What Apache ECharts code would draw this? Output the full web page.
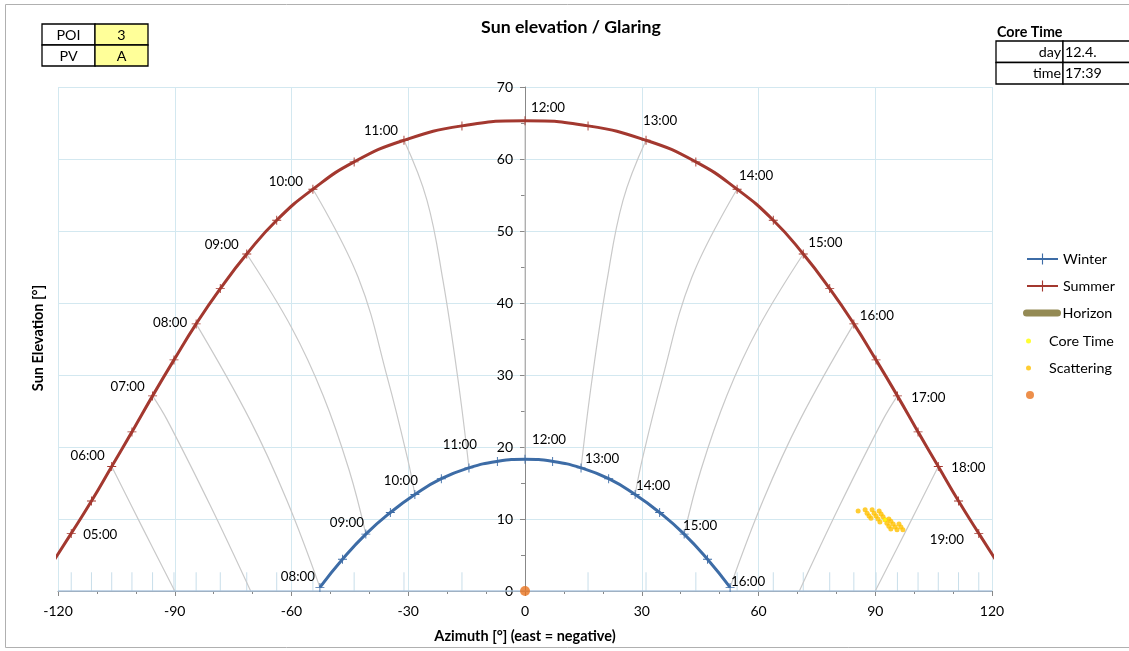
<!DOCTYPE html>
<html>
<head>
<meta charset="utf-8">
<script src="https://cdn.jsdelivr.net/npm/echarts@6/dist/echarts.min.js"></script>
<style>
  html, body { margin: 0; padding: 0; background: #fff; }
  #chart { width: 1129px; height: 651px; }
</style>
</head>
<body>
<div id="chart"></div>
<script>
// ---- Sun path, summer solstice (half-hourly) ----
const summerTimes = ['04:30','05:00','05:30','06:00','06:30','07:00','07:30','08:00','08:30','09:00','09:30',
  '10:00','10:30','11:00','11:30','12:00','12:30','13:00','13:30','14:00','14:30','15:00','15:30',
  '16:00','16:30','17:00','17:30','18:00','18:30','19:00','19:30'];
const summerAz = [-121.9,-116.6,-111.4,-106.2,-101.0,-95.7,-90.2,-84.5,-78.3,-71.5,-63.8,-54.5,-43.9,-31.1,-16.2,0,
  16.2,31.1,43.9,54.5,63.8,71.5,78.3,84.5,90.2,95.7,101.0,106.2,111.4,116.6,121.9];
const summerEl = [3.5,8.0,12.5,17.3,22.1,27.1,32.1,37.1,42.0,46.8,51.5,55.8,59.6,62.6,64.6,65.3,
  64.6,62.6,59.6,55.8,51.5,46.8,42.0,37.1,32.1,27.1,22.1,17.3,12.5,8.0,3.5];

// ---- Sun path, winter solstice (half-hourly) ----
const winterTimes = ['08:00','08:30','09:00','09:30','10:00','10:30','11:00','11:30','12:00',
  '12:30','13:00','13:30','14:00','14:30','15:00','15:30','16:00'];
const winterAz = [-52.7,-46.9,-40.9,-34.6,-28.3,-21.5,-14.4,-7.1,0,7.1,14.4,21.5,28.3,34.6,40.9,46.9,52.7];
const winterEl = [0.5,4.4,7.9,10.9,13.4,15.6,17.1,18.0,18.3,18.0,17.1,15.6,13.4,10.9,7.9,4.4,0.5];

// ---- Hour lines across the year: [azimuth, elevation] ----
const hl06 = [[-106.2,17.3],[-98.2,8.7],[-90,0]];
const hl07 = [[-95.7,27.1],[-92.0,23.8],[-80.9,11.9],[-70.5,0]];
const hl08 = [[-84.5,37.1],[-70.7,23.8],[-61.2,12.6],[-52.7,0.5]];
const hl09 = [[-71.5,46.8],[-59.9,36.5],[-51.9,27.2],[-45.2,16.8],[-40.9,7.9]];
const hl10 = [[-54.5,55.8],[-42.9,43.6],[-35.2,29.3],[-30.1,18.2],[-28.3,13.4]];
const hl11 = [[-31.1,62.6],[-25.2,54.3],[-21.1,43.2],[-17.2,29.3],[-14.4,17.1]];
const hl12 = [[0,65.3],[0,18.3]];
const hl13 = [[31.1,62.6],[25.2,54.3],[21.1,43.2],[17.2,29.3],[14.4,17.1]];
const hl14 = [[54.5,55.8],[42.9,43.6],[35.2,29.3],[30.1,18.2],[28.3,13.4]];
const hl15 = [[71.5,46.8],[59.9,36.5],[51.9,27.2],[45.2,16.8],[40.9,7.9]];
const hl16 = [[84.5,37.1],[70.7,23.8],[61.2,12.6],[52.7,0.5]];
const hl17 = [[95.7,27.1],[92.0,23.8],[80.9,11.9],[70.5,0]];
const hl18 = [[106.2,17.3],[98.2,8.7],[90,0]];

// ---- Horizon ----
const horizonAz = [-120, 120];
const horizonEl = [0, 0];
const horizonTickAz = [-116.6,-111.4,-106.2,-101.0,-95.7,-90.2,-84.5,-78.3,-71.5,-63.8,-54.5,-43.9,-31.1,-16.2,
  16.2,31.1,43.9,54.5,63.8,71.5,78.3,84.5,90.2,95.7,101.0,106.2,111.4,116.6];
const horizonTickEl = 2.6;

// ---- Glare reflections ----
const scatterAz = [85.6, 87.4,87.9,88.4,88.9, 89.2,89.7,90.2,90.7,91.2, 91.0,91.5,92.0,92.5,93.0,93.5,94.0,
  93.5,94.0,94.6,95.1,95.6, 96.1,96.6,97.1];
const scatterEl = [11.1, 11.3,10.8,10.4,10.1, 11.3,10.8,10.4,10.0,9.6, 11.1,10.7,10.3,9.9,9.4,9.0,8.6,
  10.0,9.7,9.3,8.9,8.5, 9.3,8.9,8.5];
const coreTimeAz = [92.5];
const coreTimeEl = [9.9];
const originAz = [0];
const originEl = [0];

// ---- Info tables ----
const poiTable = [['POI', '3'], ['PV', 'A']];
const coreTimeTitle = 'Core Time';
const coreTimeTable = [['day', '12.4.'], ['time', '17:39']];

// ---- Axis ranges ----
const xMin = -120, xMax = 120, xStep = 30;
const yMin = 0, yMax = 70, yStep = 10;

// ---------------------------------------------------------------
const FONT = 'Lato, "Liberation Sans", sans-serif';
const PLUS = 'path://M9,0h2v20h-2zM0,9h20v2h-20z';
const C_SUMMER = '#A3382F';
const C_WINTER = '#3D6CA6';
const C_HOURLINE = '#C9C9C9';
const C_GRID = '#D3E8F0';
const GRID = { left: 58, right: 137, top: 87, bottom: 60 };

// hour-label placement relative to the marker (px)
const summerLabelOffset = {
  '05:00':[29,1], '06:00':[-24,-11], '07:00':[-25,-9], '08:00':[-26,-1], '09:00':[-25,-9],
  '10:00':[-27,-8], '11:00':[-23,-10], '12:00':[23,-13], '13:00':[14,-20], '14:00':[19,-14],
  '15:00':[22,-11], '16:00':[23,-8], '17:00':[31,2], '18:00':[30,1], '19:00':[-32,6]
};
const winterLabelOffset = {
  '08:00':[-22,-11], '09:00':[-19,-11], '10:00':[-14,-14], '11:00':[-9,-23], '12:00':[24,-20],
  '13:00':[21,-9], '14:00':[18,-9], '15:00':[16,-8], '16:00':[18,-6]
};

function pathData(times, az, el, offsets) {
  return times.map((t, i) => {
    const item = { value: [az[i], el[i]] };
    if (offsets[t]) {
      item.label = {
        show: true, formatter: t, position: 'inside', offset: offsets[t],
        align: 'center', verticalAlign: 'middle',
        color: '#000', fontFamily: FONT, fontSize: 13.3
      };
    }
    return item;
  });
}
const zip = (a, b) => a.map((v, i) => [v, b[i]]);

const hourLines = [hl06, hl07, hl08, hl09, hl10, hl11, hl12, hl13, hl14, hl15, hl16, hl17, hl18];
const hourLineSeries = hourLines.map((d, i) => ({
  type: 'line', name: 'hour' + i, data: d, smooth: 0.4, symbol: 'none',
  lineStyle: { color: C_HOURLINE, width: 1.2 }, z: 1, silent: true
}));

const chart = echarts.init(document.getElementById('chart'), null, { renderer: 'canvas' });

const legendBase = {
  orient: 'vertical', left: 1026, padding: 0, itemWidth: 31, itemGap: 0,
  textStyle: { fontFamily: FONT, fontSize: 14.3, color: '#000' }, selectedMode: false
};

function cellGraphics(rows, x0, y0, colW, rowH, fills, alignMode) {
  const g = [];
  rows.forEach((r, ri) => {
    r.forEach((txt, ci) => {
      const x = x0 + colW.slice(0, ci).reduce((a, b) => a + b, 0);
      const y = y0 + ri * rowH;
      g.push({ type: 'rect', shape: { x: x, y: y, width: colW[ci], height: rowH },
        style: { fill: fills[ci], stroke: '#000', lineWidth: 1.3 }, z: 10 });
      let tx = x + colW[ci] / 2, al = 'center';
      if (alignMode === 'lr') { if (ci === 0) { tx = x + colW[ci] - 2; al = 'right'; } else { tx = x + 2; al = 'left'; } }
      g.push({ type: 'text', x: tx, y: y + rowH / 2 + 0.5, z: 11,
        style: { text: txt, fill: '#000', font: '14.3px ' + FONT, align: al, verticalAlign: 'middle' } });
    });
  });
  return g;
}

const graphics = [
  { type: 'rect', shape: { x: 5.5, y: 4.5, width: 1200, height: 643 },
    style: { fill: 'none', stroke: '#B0B0B0', lineWidth: 1 }, z: 0, silent: true },
  { type: 'text', x: 571, y: 27, style: { text: 'Sun elevation / Glaring', font: 'bold 17.7px ' + FONT,
    fill: '#000', align: 'center', verticalAlign: 'middle' } },
  { type: 'text', x: 38, y: 338, rotation: Math.PI / 2, style: { text: 'Sun Elevation [°]',
    font: 'bold 14.5px ' + FONT, fill: '#000', align: 'center', verticalAlign: 'middle' } },
  { type: 'text', x: 997, y: 32, style: { text: coreTimeTitle, font: 'bold 14.3px ' + FONT,
    fill: '#000', align: 'left', verticalAlign: 'middle' } }
].concat(
  cellGraphics(poiTable, 42, 24, [53, 53], 21, ['#FFFFFF', '#FFFF99'], 'c'),
  cellGraphics(coreTimeTable, 996, 41, [67, 80], 21.5, ['#FFFFFF', '#FFFFFF'], 'lr')
);

const plotW = 1129 - GRID.left - GRID.right;

const option = {
  animation: false,
  backgroundColor: '#fff',
  textStyle: { fontFamily: FONT },
  grid: Object.assign({ outerBoundsMode: 'none', containLabel: false }, GRID),
  xAxis: {
    type: 'value', min: xMin, max: xMax, interval: xStep,
    name: 'Azimuth [°] (east = negative)', nameLocation: 'middle', nameGap: 38,
    nameTextStyle: { fontFamily: FONT, fontSize: 14.5, fontWeight: 'bold', color: '#000' },
    axisLine: { onZero: false, lineStyle: { color: '#888', width: 1 } },
    axisTick: { length: 5, lineStyle: { color: '#888' } },
    minorTick: { show: true, splitNumber: 3, length: 3, lineStyle: { color: '#888' } },
    axisLabel: { margin: 13, fontFamily: FONT, fontSize: 14, color: '#000' },
    splitLine: { show: true, lineStyle: { color: C_GRID, width: 1 } }
  },
  yAxis: {
    type: 'value', min: yMin, max: yMax, interval: yStep,
    position: 'left',
    // vertical axis sits on azimuth 0, in the middle of the plot
    offset: -plotW * (0 - xMin) / (xMax - xMin),
    axisLine: { onZero: false, lineStyle: { color: '#888', width: 1 } },
    axisTick: { length: 5, lineStyle: { color: '#888' } },
    minorTick: { show: true, splitNumber: 2, length: 4, lineStyle: { color: '#888' } },
    axisLabel: { margin: 12, fontFamily: FONT, fontSize: 14, color: '#000' },
    splitLine: { show: true, lineStyle: { color: C_GRID, width: 1 } }
  },
  legend: [
    Object.assign({}, legendBase, { top: 252, itemHeight: 14, data: ['Winter'] }),
    Object.assign({}, legendBase, { top: 279, itemHeight: 14, data: ['Summer'] }),
    // round caps widen the icon, so this entry starts a little further left
    Object.assign({}, legendBase, { left: 1023, top: 306, itemHeight: 14, data: [{ name: 'Horizon',
      lineStyle: { color: '#948A54', width: 7, cap: 'round', opacity: 1 }, itemStyle: { opacity: 0 } }] }),
    Object.assign({}, legendBase, { top: 334, itemHeight: 5, data: ['Core Time'] }),
    Object.assign({}, legendBase, { top: 361, itemHeight: 5, data: ['Scattering'] }),
    Object.assign({}, legendBase, { top: 388, itemHeight: 8, data: [' '] })
  ],
  graphic: graphics,
  series: hourLineSeries.concat([
    {
      type: 'line', name: 'Horizon', data: zip(horizonAz, horizonEl), symbol: 'none',
      lineStyle: { color: '#A9C3DD', width: 2, opacity: 0.7 }, z: 2, silent: true
    },
    {
      type: 'custom', name: 'horizonTicks', z: 1, silent: true,
      data: horizonTickAz.map(a => [a, horizonTickEl]),
      renderItem: (params, api) => {
        const p0 = api.coord([api.value(0), 0]);
        const p1 = api.coord([api.value(0), api.value(1)]);
        return { type: 'line', shape: { x1: p0[0], y1: p0[1], x2: p1[0], y2: p1[1] },
          style: { stroke: '#C8DEEA', lineWidth: 1 } };
      }
    },
    {
      type: 'line', name: 'Winter', data: pathData(winterTimes, winterAz, winterEl, winterLabelOffset),
      smooth: 0.5, symbol: PLUS, symbolSize: 9, showAllSymbol: true,
      lineStyle: { color: C_WINTER, width: 3 }, itemStyle: { color: C_WINTER }, z: 4
    },
    {
      type: 'line', name: 'Summer', data: pathData(summerTimes, summerAz, summerEl, summerLabelOffset),
      smooth: 0.5, symbol: PLUS, symbolSize: 9, showAllSymbol: true,
      lineStyle: { color: C_SUMMER, width: 3 }, itemStyle: { color: C_SUMMER }, z: 4
    },
    {
      type: 'scatter', name: 'Scattering', data: zip(scatterAz, scatterEl), symbolSize: 5,
      itemStyle: { color: '#FFC000' }, z: 6
    },
    {
      type: 'scatter', name: 'Core Time', data: zip(coreTimeAz, coreTimeEl), symbolSize: 4,
      itemStyle: { color: '#FFFF00' }, z: 7
    },
    {
      type: 'scatter', name: ' ', data: zip(originAz, originEl), symbolSize: 10,
      itemStyle: { color: '#E8731E' }, z: 8
    }
  ])
};

chart.setOption(option);
</script>
</body>
</html>
